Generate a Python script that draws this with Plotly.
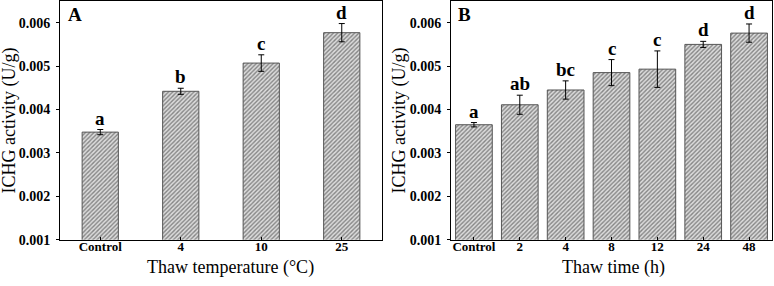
import plotly.graph_objects as go

# Panel A data
cats_a = ["Control", "4", "10", "25"]
vals_a = [0.00348, 0.00442, 0.00507, 0.00577]
errs_a = [0.00006, 0.00007, 0.00019, 0.00021]
lets_a = ["a", "b", "c", "d"]

# Panel B data
cats_b = ["Control", "2", "4", "8", "12", "24", "48"]
vals_b = [0.00365, 0.00411, 0.00445, 0.00485, 0.00493, 0.00550, 0.00576]
errs_b = [0.00005, 0.00022, 0.00021, 0.00030, 0.00042, 0.00007, 0.00021]
lets_b = ["a", "ab", "bc", "c", "c", "d", "d"]

y_ticks = [0.001, 0.002, 0.003, 0.004, 0.005, 0.006]
y_range = [0.001, 0.0065]

FONT = "Liberation Serif"

marker = dict(
    color="white",
    line=dict(color="#555555", width=1),
    pattern=dict(shape="/", fgcolor="#2e2e2e", bgcolor="#dcdcdc", size=3, solidity=0.45),
)
err_style = dict(color="black", thickness=1, width=3)

fig = go.Figure()
fig.add_trace(go.Bar(x=list(range(len(cats_a))), y=vals_a, width=0.45, marker=marker,
                     error_y=dict(type="data", array=errs_a, **err_style),
                     xaxis="x", yaxis="y", showlegend=False, hoverinfo="skip"))
fig.add_trace(go.Bar(x=list(range(len(cats_b))), y=vals_b, width=0.8, marker=marker,
                     error_y=dict(type="data", array=errs_b, **err_style),
                     xaxis="x2", yaxis="y2", showlegend=False, hoverinfo="skip"))

letter_font = dict(family=FONT, size=19, color="black", weight="bold")
annots = []
for i, (v, e, l) in enumerate(zip(vals_a, errs_a, lets_a)):
    annots.append(dict(x=i, y=v + e, xref="x", yref="y", text=l, showarrow=False,
                       yanchor="bottom", yshift=-1, font=letter_font))
for i, (v, e, l) in enumerate(zip(vals_b, errs_b, lets_b)):
    annots.append(dict(x=i, y=v + e, xref="x2", yref="y2", text=l, showarrow=False,
                       yanchor="bottom", yshift=-1, font=letter_font))

# panel labels
annots.append(dict(x=66 / 774, y=(286 - 15) / 286, xref="paper", yref="paper", text="A",
                   showarrow=False, xanchor="left", yanchor="middle", font=letter_font))
annots.append(dict(x=456 / 774, y=(286 - 15) / 286, xref="paper", yref="paper", text="B",
                   showarrow=False, xanchor="left", yanchor="middle", font=letter_font))

# axis titles
title_font = dict(family=FONT, size=18, color="black")
annots.append(dict(x=230 / 774, y=(286 - 275) / 286, xref="paper", yref="paper",
                   text="Thaw temperature (°C)", showarrow=False, xanchor="center",
                   yanchor="middle", font=title_font))
annots.append(dict(x=613 / 774, y=(286 - 275) / 286, xref="paper", yref="paper",
                   text="Thaw time (h)", showarrow=False, xanchor="center",
                   yanchor="middle", font=title_font))
annots.append(dict(x=10 / 774, y=(286 - 124) / 286, xref="paper", yref="paper",
                   text="ICHG activity (U/g)", showarrow=False, xanchor="center",
                   yanchor="middle", textangle=-90, font=title_font))
annots.append(dict(x=400 / 774, y=(286 - 124) / 286, xref="paper", yref="paper",
                   text="ICHG activity (U/g)", showarrow=False, xanchor="center",
                   yanchor="middle", textangle=-90, font=title_font))

xtick_font = dict(family=FONT, size=13, color="black", weight="bold")
ytick_font = dict(family=FONT, size=14, color="black", weight="bold")
ydom = [(286 - 246.7) / 286, 285 / 286]

xcommon = dict(showline=True, linecolor="black", linewidth=1, mirror=True,
               ticks="inside", ticklen=3, tickcolor="black", tickfont=xtick_font,
               showgrid=False, zeroline=False, ticklabelstandoff=-5)
ycommon = dict(range=y_range, tickvals=y_ticks, ticktext=[f"{t:.3f}" for t in y_ticks],
               showline=True, linecolor="black", linewidth=1, mirror=True,
               ticks="outside", ticklen=3, tickcolor="black", tickfont=ytick_font,
               showgrid=False, zeroline=False, ticklabelstandoff=3)

fig.update_layout(
    width=774, height=286,
    margin=dict(l=0, r=0, t=0, b=0),
    paper_bgcolor="white", plot_bgcolor="white",
    bargap=0,
    hovermode=False,
    xaxis=dict(domain=[60 / 774, 382 / 774], anchor="y", range=[-0.5, 3.5],
               tickvals=list(range(len(cats_a))), ticktext=cats_a, **xcommon),
    xaxis2=dict(domain=[451 / 774, 772 / 774], anchor="y2", range=[-0.5, 6.5],
                tickvals=list(range(len(cats_b))), ticktext=cats_b, **xcommon),
    yaxis=dict(domain=ydom, anchor="x", **ycommon),
    yaxis2=dict(domain=ydom, anchor="x2", **ycommon),
    annotations=annots,
)

fig.write_html(
    "out.html",
    config={"displayModeBar": False, "staticPlot": True},
    post_script="document.body.style.margin='0';document.body.style.overflow='hidden';",
)
